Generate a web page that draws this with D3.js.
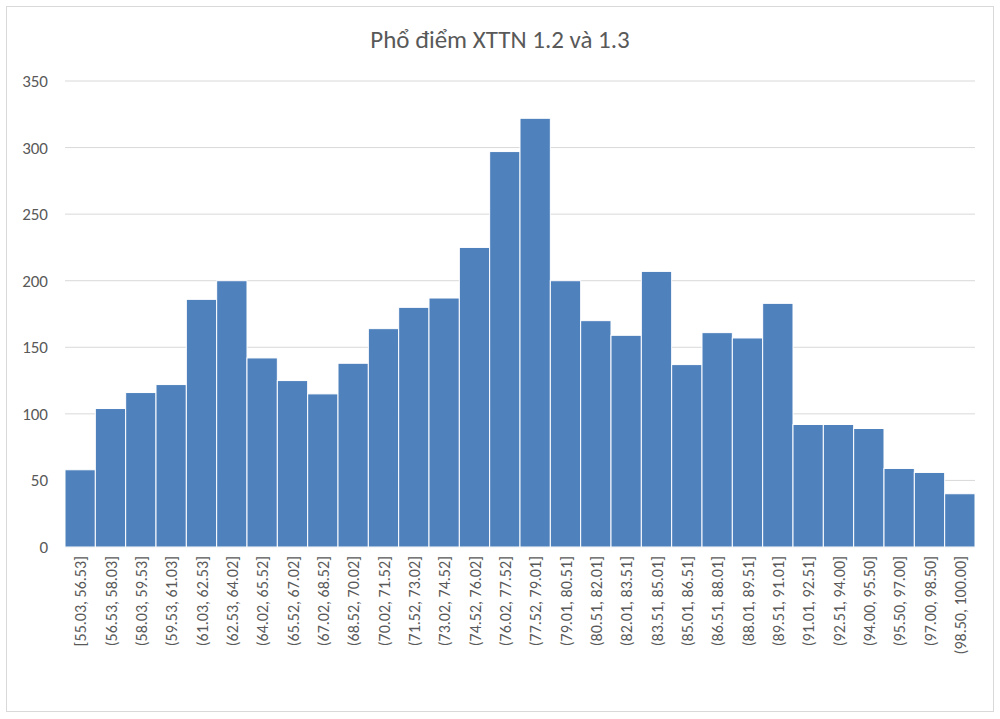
<!DOCTYPE html>
<html><head><meta charset="utf-8">
<script src="https://cdn.jsdelivr.net/npm/d3@7"></script>
<style>body{margin:0;background:#fff}</style></head>
<body><svg id="c" width="1000" height="719"></svg>
<script>
const categories=["[55.03, 56.53]","(56.53, 58.03]","(58.03, 59.53]","(59.53, 61.03]","(61.03, 62.53]","(62.53, 64.02]","(64.02, 65.52]","(65.52, 67.02]","(67.02, 68.52]","(68.52, 70.02]","(70.02, 71.52]","(71.52, 73.02]","(73.02, 74.52]","(74.52, 76.02]","(76.02, 77.52]","(77.52, 79.01]","(79.01, 80.51]","(80.51, 82.01]","(82.01, 83.51]","(83.51, 85.01]","(85.01, 86.51]","(86.51, 88.01]","(88.01, 89.51]","(89.51, 91.01]","(91.01, 92.51]","(92.51, 94.00]","(94.00, 95.50]","(95.50, 97.00]","(97.00, 98.50]","(98.50, 100.00]"];
const values=[58,104,116,122,186,200,142,125,115,138,164,180,187,225,297,322,200,170,159,207,137,161,157,183,92,92,89,59,56,40];
const yTicks=[0,50,100,150,200,250,300,350];
const svg=d3.select("#c");
svg.append("rect").attr("x",6.5).attr("y",6.5).attr("width",987).attr("height",705).attr("fill","#fff").attr("stroke","#d9d9d9");
const x=d3.scaleBand().domain(categories).range([65,975]).padding(0);
const y=d3.scaleLinear().domain([0,350]).range([547,81]);
const font="Calibri, Carlito, 'Liberation Sans', sans-serif";
svg.append("g").selectAll("line").data(yTicks).join("line")
 .attr("x1",65).attr("x2",975).attr("y1",d=>y(d)).attr("y2",d=>y(d)).attr("stroke","#d9d9d9");
svg.append("g").selectAll("text").data(yTicks).join("text")
 .attr("x",48).attr("y",d=>y(d)+6).attr("text-anchor","end").attr("fill","#595959")
 .attr("font-family",font).attr("font-size",17).text(d=>d);
svg.append("g").selectAll("rect").data(values).join("rect")
 .attr("x",(d,i)=>x(categories[i])).attr("width",x.bandwidth()).attr("y",d=>y(d)).attr("height",d=>y(0)-y(d))
 .attr("fill","#4f81bd").attr("stroke","#fff").attr("stroke-width",1);
svg.append("g").selectAll("text").data(categories).join("text")
 .attr("transform",d=>`translate(${x(d)+x.bandwidth()/2+6},556) rotate(-90)`)
 .attr("text-anchor","end").attr("fill","#595959").attr("font-family",font).attr("font-size",16).text(d=>d);
svg.append("text").attr("x",500).attr("y",48).attr("text-anchor","middle").attr("fill","#595959")
 .attr("font-family",font).attr("font-size",25).text("Phổ điểm XTTN 1.2 và 1.3");
</script></body></html>
